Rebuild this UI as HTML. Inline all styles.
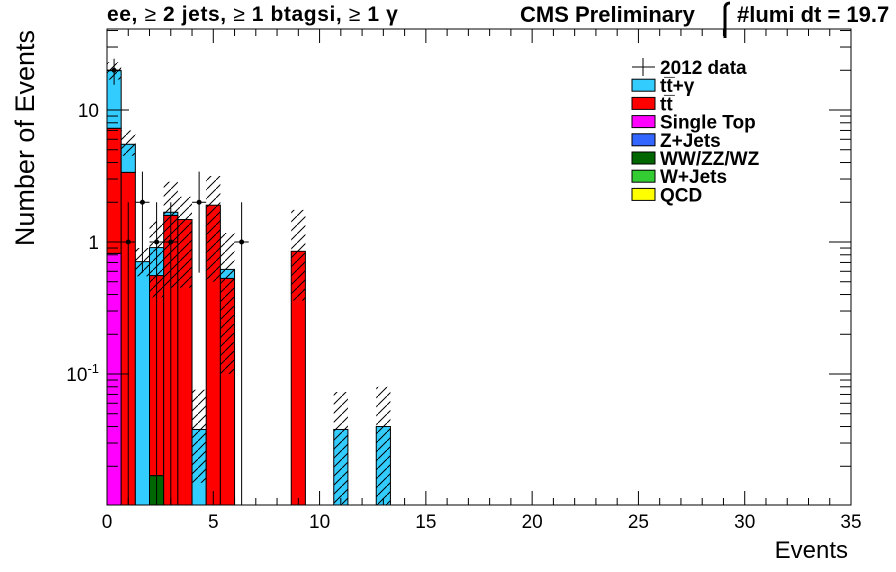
<!DOCTYPE html>
<html><head><meta charset="utf-8"><style>
body{margin:0;background:#fff;}
svg{display:block;font-family:"Liberation Sans",sans-serif;}
</style></head><body>
<svg id="c" width="896" height="572">
<defs>
<pattern id="hatch" patternUnits="userSpaceOnUse" width="9" height="9">
<line x1="0" y1="9" x2="9" y2="0" stroke="#000" stroke-width="1"/>
</pattern>
</defs>
</svg>
<script>
const binWidth = 2/3;
const binIndex = [0,1,2,3,4,5,6,7,8,13,16,19];
const singleTop = [0.82,0,0,0,0,0,0,0,0,0,0,0];
const wwzz = [0,0,0,0.017,0,0,0,0,0,0,0,0];
const ttbar = [6.45,3.37,0,0.54,1.59,1.48,0,1.9,0.53,0.85,0,0];
const ttgamma = [12.6,2.13,0.71,0.35,0.09,0,0.038,0,0.09,0,0.038,0.04];
const errHi = [23,7.0,0.9,1.43,2.86,2.2,0.076,3.16,1.17,1.75,0.073,0.08];
const errLo = [17,4.5,0.55,0.38,0.45,0.45,0.015,0.5,0.1,0.36,0.01,0.01];
const dataBins = [0,1,2,3,4,6,9];
const dataVals = [20,1,2,1,1,2,1];
const xTicks = [0,5,10,15,20,25,30,35];
const yTicks = [10,1,0.1];
const legendLabels = ["2012 data","tt\u0305+\u03b3","tt\u0305","Single Top","Z+Jets","WW/ZZ/WZ","W+Jets","QCD"];
const legendColors = [null,"#33ccff","#ff0000","#ff00ff","#3366ff","#006600","#33cc33","#ffff00"];

const L=107,R=851,T=29,B=505;
const X=v=>L+(v/35)*(R-L);
const Y=v=>242-132*Math.log10(v);
const Yc=v=>Math.min(B,Math.max(T,v>0?Y(v):B));
const svg=document.getElementById('c');
const NS="http://www.w3.org/2000/svg";
function mk(tag,at,parent){const e=document.createElementNS(NS,tag);for(const k in at)e.setAttribute(k,at[k]);(parent||svg).appendChild(e);return e;}

const frame=mk('rect',{x:L,y:T,width:R-L,height:B-T,fill:'#fff',stroke:'#000','stroke-width':1});



const layers=[[singleTop,'#ff00ff','single-top'],[wwzz,'#006600','wwzzwz'],[ttbar,'#ff0000','ttbar'],[ttgamma,'#33ccff','ttgamma']];
binIndex.forEach((b,i)=>{
  let cum=0;
  const x0=X(b*binWidth),x1=X((b+1)*binWidth);
  layers.forEach(([arr,col,nm])=>{
    const v=arr[i]; if(v<=0)return;
    const lo=cum, hi=cum+v; cum=hi;
    const y0=Yc(lo), y1=Yc(hi);
    const r=mk('rect',{x:x0,y:y1,width:x1-x0,height:y0-y1,fill:col,stroke:'#000','stroke-width':1});
    
    
  });
  const h=mk('rect',{x:x0,y:Yc(errHi[i]),width:x1-x0,height:Yc(errLo[i])-Yc(errHi[i]),fill:'url(#hatch)'});
  
  
});

dataBins.forEach((b,i)=>{
  const v=dataVals[i];
  const cx=X((b+0.5)*binWidth);
  const g=mk('g',{});
  
  
  const e=Math.sqrt(v);
  mk('line',{x1:cx,x2:cx,y1:Yc(v+e),y2:Yc(v-e),stroke:'#000','stroke-width':1},g);
  mk('line',{x1:X(b*binWidth),x2:X((b+1)*binWidth),y1:Y(v),y2:Y(v),stroke:'#000','stroke-width':1},g);
  mk('circle',{cx:cx,cy:Y(v),r:2.5,fill:'#000'},g);
});

const ax=mk('g',{stroke:'#000','stroke-width':1});


for(let v=0;v<=35;v++){
  const x=X(v), len=(v%5===0)?14:7;
  mk('line',{x1:x,x2:x,y1:B,y2:B-len},ax);
  mk('line',{x1:x,x2:x,y1:T,y2:T+len},ax);
}
for(let d=-2;d<=1;d++){
  for(let m=1;m<10;m++){
    const v=m*Math.pow(10,d); const y=Y(v);
    if(y<T||y>B)continue;
    const len=m===1?22:11;
    mk('line',{x1:L,x2:L+len,y1:y,y2:y},ax);
    mk('line',{x1:R,x2:R-len,y1:y,y2:y},ax);
  }
}
xTicks.forEach(v=>{
  const t=mk('text',{x:X(v),y:528,'text-anchor':'middle','font-size':19,fill:'#000'});
  t.textContent=v;
  
  
});
yTicks.forEach(v=>{
  const t=mk('text',{x:99,y:Y(v)+7,'text-anchor':'end','font-size':19,fill:'#000'});
  if(v>=1)t.textContent=v;else{t.textContent='10';const s=mk('tspan',{dy:-8,'font-size':13},t);s.textContent='-1';}
  
  
});

legendLabels.forEach((lab,i)=>{
  const y=67+i*18.2;
  const g=mk('g',{});
  
  
  if(legendColors[i]===null){
    mk('line',{x1:632,x2:655,y1:y,y2:y,stroke:'#000'},g);
    mk('line',{x1:643,x2:643,y1:y-9,y2:y+9,stroke:'#000'},g);
  } else mk('rect',{x:632,y:y-6,width:23,height:12,fill:legendColors[i],stroke:'#000'},g);
  const t=mk('text',{x:660,y:y+7,'font-size':19,'font-weight':'bold',fill:'#000'},g);
  t.textContent=lab;
});
</script>
<svg style="position:absolute;left:0;top:0" width="896" height="572">
<text x="107" y="21" font-size="21" font-weight="bold" letter-spacing="0.6" font-family="Liberation Sans, DejaVu Sans, sans-serif">ee, <tspan font-weight="normal">≥</tspan> 2 jets, <tspan font-weight="normal">≥</tspan> 1 btagsi, <tspan font-weight="normal">≥</tspan> 1 γ</text>
<text x="520" y="22" font-size="22" font-weight="bold" font-family="Liberation Sans, sans-serif">CMS Preliminary</text>
<path d="M725 38 L725 7 Q726 3 730 3" fill="none" stroke="#000" stroke-width="3"/>
<text x="737" y="22" font-size="22" font-weight="bold" font-family="Liberation Sans, sans-serif">#lumi dt = 19.7</text>
<text x="848" y="558" text-anchor="end" font-size="24" font-family="Liberation Sans, sans-serif">Events</text>
<text transform="translate(34,30) rotate(-90)" text-anchor="end" font-size="27" font-family="Liberation Sans, sans-serif">Number of Events</text>
</svg>
</body></html>
